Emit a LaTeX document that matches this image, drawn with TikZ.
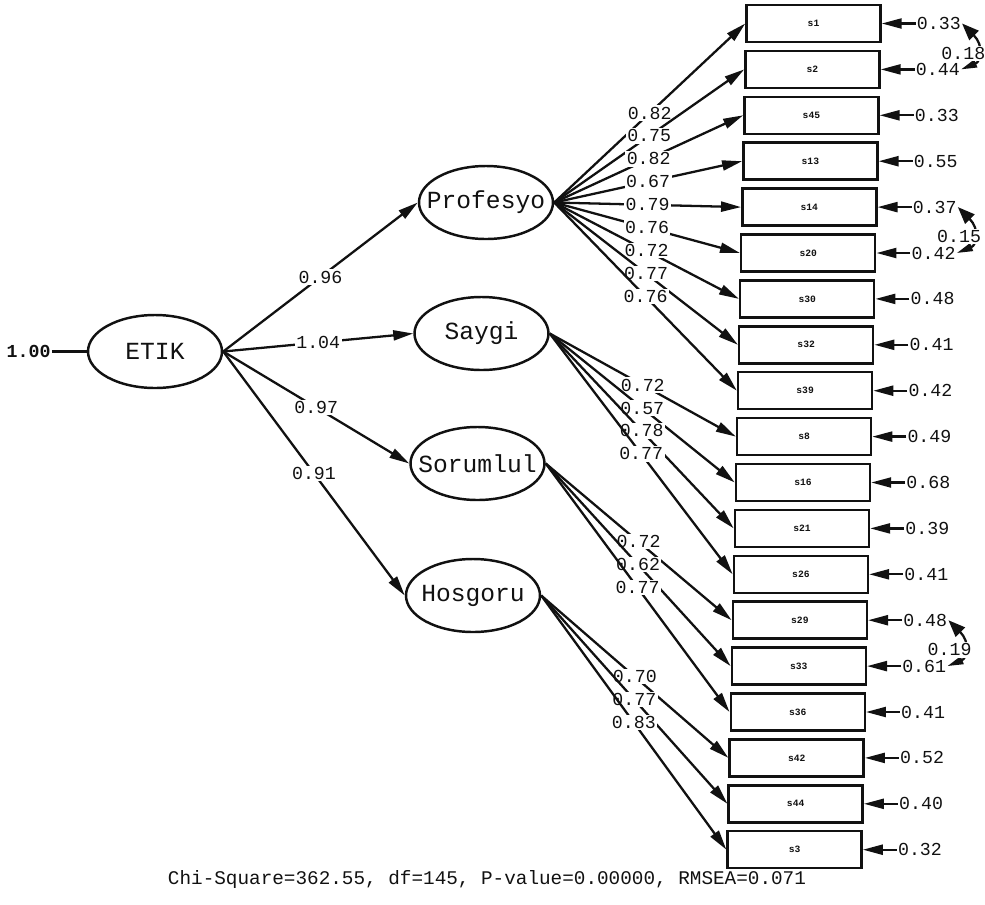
\documentclass[tikz,border=0pt]{standalone}
\usepackage{fontspec}
\setmonofont{Liberation Mono}
\usepackage{tikz}
\usetikzlibrary{arrows.meta, positioning, shapes.geometric}
\definecolor{ink}{HTML}{111111}

\begin{document}
\begin{tikzpicture}[
  x=0.2mm, y=-0.2mm,
  font=\ttfamily,
  lat/.style={ellipse, draw=ink, line width=1.4pt, minimum width=26.8mm, minimum height=14.6mm,
           inner sep=0pt, text=ink, font=\ttfamily\fontsize{14}{16}\selectfont},
  ind/.style={draw=ink, line width=1.4pt, minimum width=26.8mm, minimum height=7.4mm,
           inner sep=0pt, text=ink, font=\ttfamily\bfseries\fontsize{5.5}{6}\selectfont},
  err/.style={inner sep=0.5pt, text=ink, font=\ttfamily\fontsize{10.4}{12}\selectfont},
  lab/.style={fill=white, inner sep=0.8pt, text=ink, font=\ttfamily\fontsize{10.4}{12}\selectfont},
  arr/.style={-{Triangle[length=4mm, width=2mm]}, line width=1.3pt, color=ink},
  cov/.style={{Triangle[length=3.4mm, width=2.6mm]}-{Triangle[length=3.2mm, width=1.6mm]},
           line width=1.3pt, color=ink}
]
  \useasboundingbox (0,0) rectangle (985,904);

  % latent variables
  \node[lat] (ETIK) at (155,351.5) {\makebox[0pt]{ETIK}};
  \node[lat] (Prof) at (486,202.5) {\makebox[0pt]{Profesyo}};
  \node[lat] (Sayg) at (481.5,333.5) {\makebox[0pt]{Saygi}};
  \node[lat] (Soru) at (477.5,463.5) {\makebox[0pt]{Sorumlul}};
  \node[lat] (Hosg) at (473,595.5) {\makebox[0pt]{Hosgoru}};

  \node[err, font=\ttfamily\bfseries\fontsize{10.4}{12}\selectfont, left=7mm of ETIK] (fix) {1.00};
  \draw[line width=1.3pt, color=ink] (fix) -- (ETIK);

  % observed variables with error variances
  \foreach \s/\e [count=\i from 0] in {s1/0.33, s2/0.44, s45/0.33, s13/0.55, s14/0.37, s20/0.42,
      s30/0.48, s32/0.41, s39/0.42, s8/0.49, s16/0.68, s21/0.39, s26/0.41, s29/0.48,
      s33/0.61, s36/0.41, s42/0.52, s44/0.40, s3/0.32} {
    \node[ind] (\s) at ({813.5-1.05*\i},{23.5+45.9*\i}) {\s};
    \node[err, right=6.8mm of \s] (e\s) {\e};
    \draw[arr] (e\s) -- (\s);
  }

  % second order loadings
  \draw[arr] (ETIK.east) -- (Prof.west) node[lab, pos=0.5] {0.96};
  \draw[arr] (ETIK.east) -- (Sayg.west) node[lab, pos=0.5] {1.04};
  \draw[arr] (ETIK.east) -- (Soru.west) node[lab, pos=0.5] {0.97};
  \draw[arr] (ETIK.east) -- (Hosg.west) node[lab, pos=0.5] {0.91};

  % first order loadings
  \foreach \s/\w in {s1/0.82, s2/0.75, s45/0.82, s13/0.67, s14/0.79, s20/0.76, s30/0.72, s32/0.77, s39/0.76}
    \draw[arr] (Prof.east) -- (\s.west) node[lab, pos=0.5] {\w};
  \foreach \s/\w in {s8/0.72, s16/0.57, s21/0.78, s26/0.77}
    \draw[arr] (Sayg.east) -- (\s.west) node[lab, pos=0.5] {\w};
  \foreach \s/\w in {s29/0.72, s33/0.62, s36/0.77}
    \draw[arr] (Soru.east) -- (\s.west) node[lab, pos=0.5] {\w};
  \foreach \s/\w in {s42/0.70, s44/0.77, s3/0.83}
    \draw[arr] (Hosg.east) -- (\s.west) node[lab, pos=0.5] {\w};

  % error covariances
  \foreach \a/\b/\c in {s1/s2/0.18, s14/s20/0.15, s29/s33/0.19}
    \draw[cov] (e\a.east) .. controls +(22,22) and +(20,-8) .. (e\b.east)
      node[lab, midway, xshift=-2.8mm, yshift=-0.3mm] {\c};

  \node[err, font=\ttfamily\fontsize{11}{13}\selectfont] (fit) at (487,879)
    {Chi-Square=362.55, df=145, P-value=0.00000, RMSEA=0.071};
\end{tikzpicture}
\end{document}
